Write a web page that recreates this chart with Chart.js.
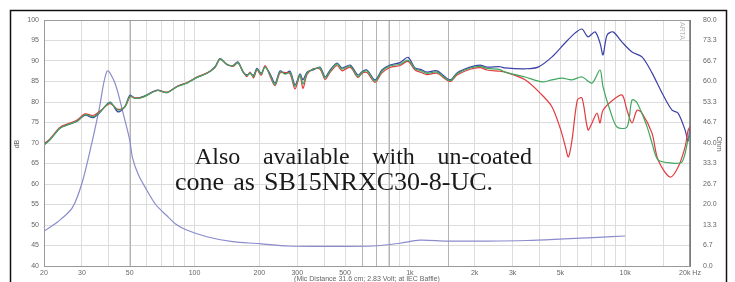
<!DOCTYPE html>
<html>
<head>
<meta charset="utf-8">
<script src="https://cdn.jsdelivr.net/npm/chart.js"></script>
<style>
  html, body { margin: 0; padding: 0; background: #fff; }
  #wrap { width: 735px; height: 282px; }
</style>
</head>
<body>
<div id="wrap"><canvas id="graph" width="735" height="282"></canvas></div>
<script>
// shared part of the SPL curves (Hz)
var lowFreq = [20, 21.3, 23.7, 25.6, 28.5, 31, 33.8, 36.4, 40.5, 44.1, 47.6, 50.2, 52.9, 57.7, 67, 74.5, 82.9, 92.3,
  102.7, 114.3, 124.5, 131.4, 141.5, 151, 159, 168, 175, 181, 188, 195, 204, 212.6, 224.3, 236.6, 249.6, 263.3, 277.7,
  292.9, 309, 319, 333, 355, 383, 404, 426, 459, 484, 528, 574, 600, 632, 689, 742, 809, 900, 981, 1057, 1130, 1201,
  1337, 1537, 1656, 1904, 2118, 2282, 2622];
var lowBlue = [69.5, 70.8, 73.6, 74.4, 75.3, 76.8, 76.2, 77.5, 80.0, 77.6, 79.0, 81.7, 80.9, 81.3, 82.9, 82.3, 83.8, 84.7,
  86.0, 87.0, 88.6, 90.6, 89.1, 88.9, 89.8, 87.3, 86.6, 87.0, 86.5, 88.2, 87.0, 88.6, 86.9, 84.6, 87.6, 86.9, 87.5,
  84.2, 86.8, 85.4, 87.3, 87.8, 88.5, 86.1, 87.8, 89.5, 88.3, 89.0, 86.6, 87.4, 87.8, 85.4, 87.8, 89.0, 89.6, 90.9, 88.3, 87.9, 87.3,
  87.6, 85.4, 87.1, 88.5, 89.0, 88.5, 88.6];
var lowGreen = [69.5, 70.8, 73.6, 74.4, 75.3, 76.9, 76.4, 77.6, 79.8, 78.0, 78.9, 81.5, 80.9, 81.2, 82.8, 82.3, 83.7, 84.6,
  86.0, 87.0, 88.5, 90.5, 89.2, 88.8, 89.6, 87.4, 86.4, 87.1, 86.2, 88.0, 86.8, 88.5, 86.6, 84.2, 87.4, 86.8, 87.2,
  83.8, 86.6, 84.4, 87.0, 88.0, 88.3, 85.8, 87.5, 89.3, 88.0, 88.8, 86.2, 87.2, 87.6, 85.1, 87.5, 88.8, 89.2, 90.2, 88.1, 87.6, 87.0,
  87.3, 85.2, 86.9, 88.3, 88.7, 88.2, 87.9];
var lowRed = [69.8, 71.0, 73.8, 74.6, 75.6, 77.1, 76.7, 77.8, 79.6, 78.2, 78.8, 81.3, 81.0, 81.2, 82.8, 82.4, 83.8, 84.7,
  86.1, 87.1, 88.4, 90.4, 89.2, 88.7, 89.5, 87.5, 86.2, 87.3, 85.9, 87.8, 86.5, 88.9, 86.3, 84.0, 87.1, 87.2, 86.9,
  83.2, 86.4, 83.3, 86.7, 88.1, 88.0, 85.5, 87.2, 88.9, 87.6, 88.5, 86.0, 87.0, 87.2, 84.8, 87.1, 88.4, 88.9, 89.9, 87.8, 87.2, 86.7,
  87.0, 85.0, 86.6, 88.0, 88.4, 87.8, 87.5];

// high frequency part, each curve on its own
var hiFreqBlue = [2767, 3428, 3938, 4574, 5254, 5848, 6300, 6720, 7243, 7641, 7890, 8235, 8780, 9670, 10760, 11970,
  13320, 14830, 16510, 17600, 18970, 19580, 20000];
var hiBlue = [88.3, 88.1, 88.5, 91.0, 94.4, 96.8, 97.8, 95.9, 97.1, 94.4, 91.5, 96.3, 97.1, 94.6, 92.2, 91.0,
  87.1, 82.2, 78.0, 77.3, 73.2, 70.5, 74.0];
var hiFreqGreen = [2767, 3428, 4110, 4574, 5089, 5663, 6300, 7015, 7641, 7890, 8503, 9166, 10200, 10760, 11350, 12630,
  13320, 14210, 16510, 18370, 19580, 20000];
var hiGreen = [87.3, 86.1, 84.9, 85.4, 85.8, 85.4, 86.1, 84.6, 87.8, 83.7, 78.0, 73.9, 73.9, 80.5, 79.8, 74.0,
  70.0, 65.9, 65.1, 65.4, 70.7, 72.0];
var hiFreqRed = [2767, 3428, 4110, 4574, 5000, 5254, 5450, 5663, 6000, 6300, 6720, 7015, 7400, 7641, 7890, 8780, 9670,
  10200, 10760, 11350, 11970, 13320, 14210, 16160, 17600, 18970, 19580, 20000];
var hiRed = [87.3, 85.4, 81.7, 78.8, 73.5, 69.5, 66.6, 70.7, 80.5, 81.0, 73.2, 74.9, 77.3, 74.9, 78.0, 80.5, 81.7,
  78.0, 74.9, 78.0, 77.3, 72.4, 65.9, 61.7, 64.1, 69.0, 73.0, 74.0];

// impedance (ohm, right axis)
var impFreq = [20, 23, 27, 30, 33.6, 36, 39.3, 42.7, 46.6, 50, 51.6, 55, 60, 66, 74, 82, 92, 114, 150, 200, 272, 400,
  675, 900, 1110, 1480, 2300, 3500, 5200, 7500, 10000];
var impOhm = [11.3, 14.2, 18.8, 26.9, 41.0, 50.7, 63.4, 59.5, 49.7, 41.0, 35.0, 29.5, 24.7, 20.0, 16.5, 13.6, 11.7, 9.5,
  7.9, 7.3, 6.5, 6.4, 6.5, 7.4, 8.4, 8.1, 8.1, 8.3, 8.8, 9.3, 9.75];

var xGrid = [20, 30, 40, 50, 60, 70, 80, 90, 100, 200, 300, 400, 500, 600, 700, 800, 900, 1000, 2000, 3000, 4000, 5000,
  6000, 7000, 8000, 9000, 10000, 15000, 20000];
var xTickValues = [20, 30, 50, 100, 200, 300, 500, 1000, 2000, 3000, 5000, 10000, 20000];
var xTickText = ['20', '30', '50', '100', '200', '300', '500', '1k', '2k', '3k', '5k', '10k', '20k Hz'];
var darkGrid = [50, 600, 700, 800, 1500];

function pts(f, v) {
  var out = [];
  for (var i = 0; i < f.length; i++) out.push({ x: f[i], y: v[i] });
  return out;
}

function justify(ctx, words, x0, x1, y) {
  var total = 0;
  for (var i = 0; i < words.length; i++) total += ctx.measureText(words[i]).width;
  var gap = (x1 - x0 - total) / (words.length - 1);
  var x = x0;
  for (var j = 0; j < words.length; j++) {
    ctx.fillText(words[j], x, y);
    x += ctx.measureText(words[j]).width + gap;
  }
}

var deco = {
  id: 'deco',
  beforeDraw: function (chart) {
    var ctx = chart.ctx;
    ctx.save();
    ctx.fillStyle = '#fff';
    ctx.fillRect(0, 0, chart.width, chart.height);
    ctx.restore();
  },
  beforeDatasetsDraw: function (chart) {
    var ctx = chart.ctx, a = chart.chartArea, sx = chart.scales.x;
    ctx.save();
    ctx.strokeStyle = '#b4b4b4';
    ctx.lineWidth = 1;
    darkGrid.forEach(function (f) {
      var px = Math.round(sx.getPixelForValue(f)) + 0.5;
      ctx.beginPath();
      ctx.moveTo(px, a.top);
      ctx.lineTo(px, a.bottom);
      ctx.stroke();
    });
    ctx.restore();
  },
  afterDraw: function (chart) {
    var ctx = chart.ctx, a = chart.chartArea;
    ctx.save();
    // outer box
    ctx.strokeStyle = '#111';
    ctx.lineWidth = 1.5;
    ctx.strokeRect(10.5, 10.5, 716, 300);
    // plot frame
    ctx.strokeStyle = '#9a9a9a';
    ctx.lineWidth = 1;
    ctx.strokeRect(a.left + 0.5, a.top + 0.5, a.right - a.left, a.bottom - a.top);
    ctx.strokeStyle = '#707070';
    ctx.lineWidth = 1.5;
    ctx.beginPath();
    ctx.moveTo(a.right, a.top);
    ctx.lineTo(a.right, a.bottom);
    ctx.stroke();

    // axis titles
    ctx.fillStyle = '#666';
    ctx.font = '7px "Liberation Sans", Arial, sans-serif';
    ctx.textAlign = 'center';
    ctx.textBaseline = 'middle';
    ctx.fillText('(Mic Distance 31.6 cm; 2.83 Volt; at IEC Baffle)', (a.left + a.right) / 2, 279);
    ctx.save();
    ctx.translate(17, 144);
    ctx.rotate(-Math.PI / 2);
    ctx.fillText('dB', 0, 0);
    ctx.restore();
    ctx.save();
    ctx.translate(719, 144);
    ctx.rotate(Math.PI / 2);
    ctx.fillText('Ohm', 0, 0);
    ctx.restore();
    ctx.save();
    ctx.fillStyle = '#b8b8b8';
    ctx.translate(682, 31);
    ctx.rotate(Math.PI / 2);
    ctx.fillText('ARTA', 0, 0);
    ctx.restore();

    // note text
    ctx.fillStyle = '#1a1a1a';
    ctx.textAlign = 'left';
    ctx.textBaseline = 'alphabetic';
    ctx.font = '24px "Liberation Serif", "Times New Roman", serif';
    justify(ctx, ['Also', 'available', 'with', 'un-coated'], 195, 532, 164);
    ctx.font = '26px "Liberation Serif", "Times New Roman", serif';
    justify(ctx, ['cone', 'as', 'SB15NRXC30-8-UC.'], 175, 493, 190);
    ctx.restore();
  }
};

var tickFont = { family: '"Liberation Sans", Arial, sans-serif', size: 7 };

new Chart(document.getElementById('graph'), {
  type: 'line',
  data: {
    datasets: [
      { label: 'green', data: pts(lowFreq, lowGreen).concat(pts(hiFreqGreen, hiGreen)), borderColor: '#3ea85e', yAxisID: 'y' },
      { label: 'red', data: pts(lowFreq, lowRed).concat(pts(hiFreqRed, hiRed)), borderColor: '#e23a3e', yAxisID: 'y' },
      { label: 'blue', data: pts(lowFreq, lowBlue).concat(pts(hiFreqBlue, hiBlue)), borderColor: '#3c41a6', yAxisID: 'y' },
      { label: 'impedance', data: pts(impFreq, impOhm), borderColor: '#8a8ccc', yAxisID: 'y2' }
    ]
  },
  options: {
    responsive: false,
    animation: false,
    devicePixelRatio: 1,
    elements: {
      point: { radius: 0 },
      line: { borderWidth: 1.2, tension: 0.3, fill: false }
    },
    layout: { padding: { left: 10, right: 10, top: 20, bottom: 0 } },
    plugins: { legend: { display: false }, tooltip: { enabled: false } },
    scales: {
      x: {
        type: 'logarithmic',
        min: 20,
        max: 20000,
        afterBuildTicks: function (s) { s.ticks = xGrid.map(function (v) { return { value: v }; }); },
        afterFit: function (s) { s.height = 16; },
        grid: { color: '#dcdcdc', drawTicks: false },
        border: { display: false },
        ticks: {
          autoSkip: false,
          maxRotation: 0,
          padding: 3,
          color: '#666',
          font: tickFont,
          callback: function (v) {
            var k = xTickValues.indexOf(v);
            return k >= 0 ? xTickText[k] : '';
          }
        }
      },
      y: {
        position: 'left',
        min: 40,
        max: 100,
        afterFit: function (s) { s.width = 34; },
        grid: { color: '#dcdcdc', drawTicks: false },
        border: { display: false },
        ticks: { stepSize: 5, padding: 5, color: '#666', font: tickFont }
      },
      y2: {
        position: 'right',
        min: 0,
        max: 80,
        afterBuildTicks: function (s) {
          var t = [];
          for (var i = 0; i <= 12; i++) t.push({ value: i * 80 / 12 });
          s.ticks = t;
        },
        afterFit: function (s) { s.width = 35; },
        grid: { display: false },
        border: { display: false },
        ticks: { padding: 5, color: '#666', font: tickFont, callback: function (v) { return v.toFixed(1); } }
      }
    }
  },
  plugins: [deco]
});
</script>
</body>
</html>
